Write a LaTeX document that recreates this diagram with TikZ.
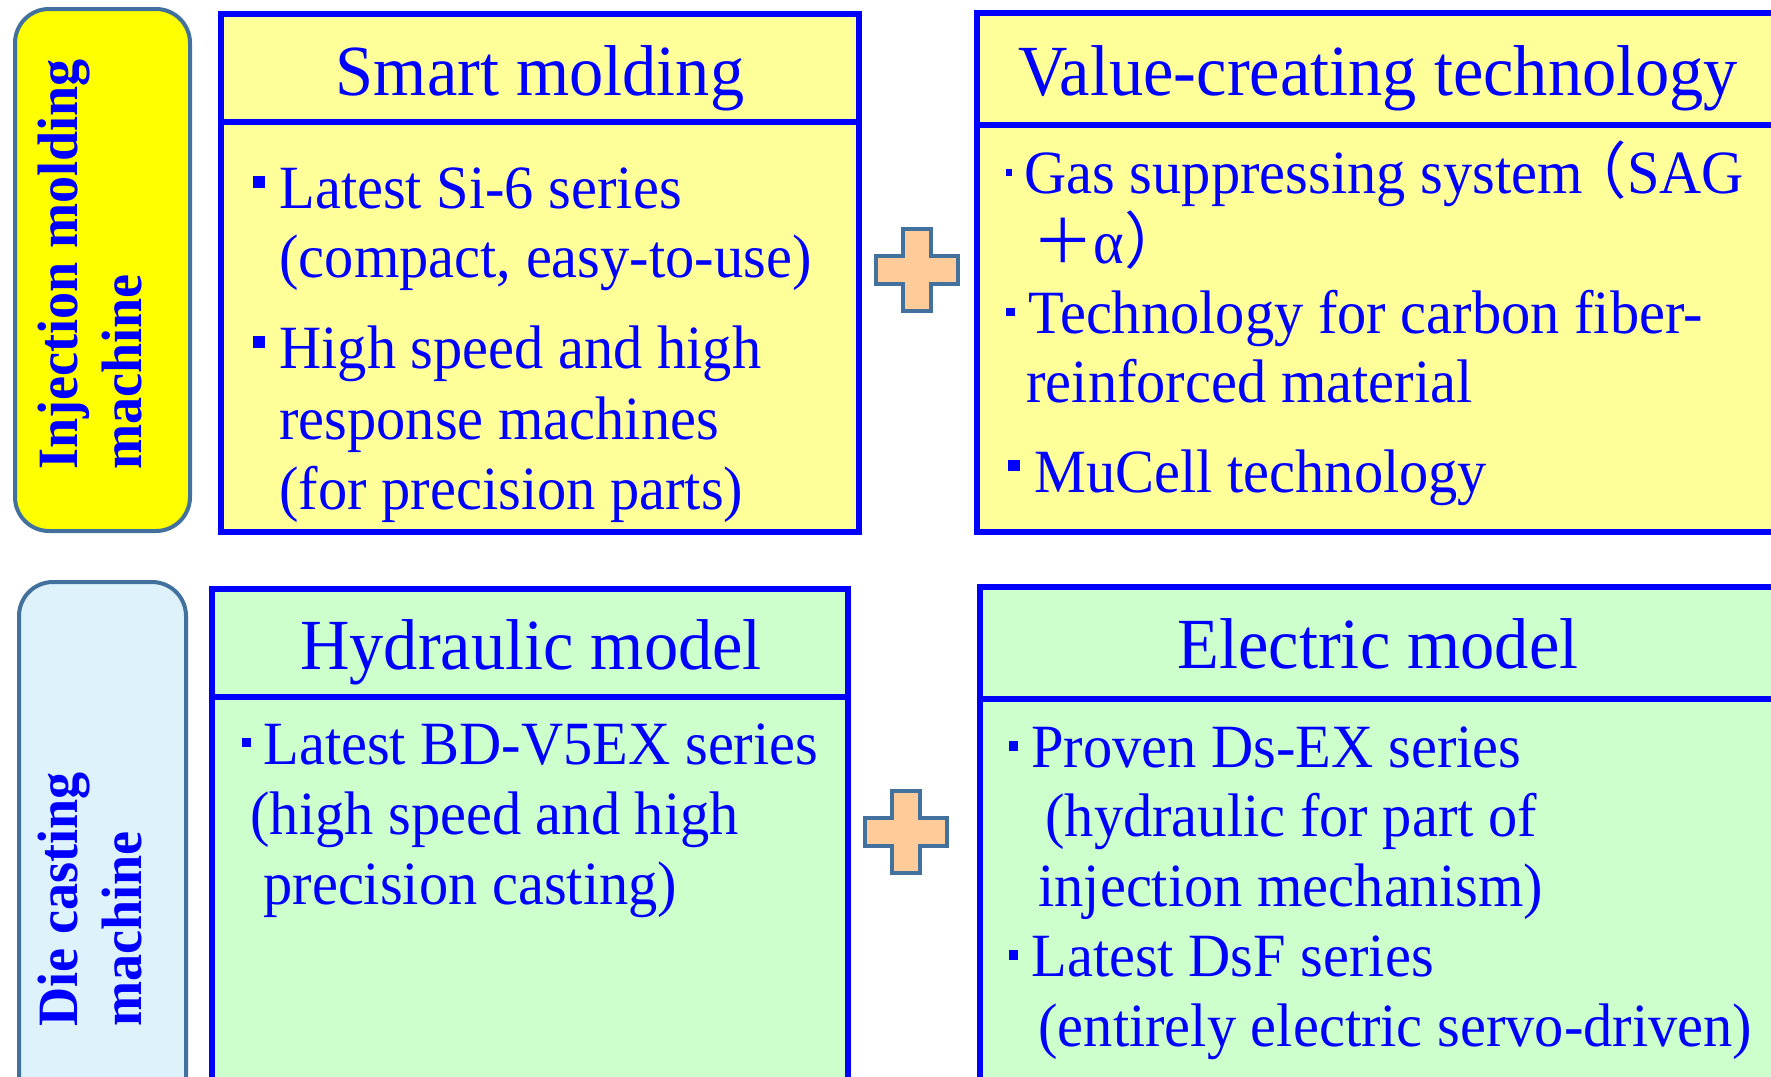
\documentclass[tikz,border=0pt]{standalone}
\usepackage{fontspec}
\setmainfont{Liberation Serif}[FakeStretch=0.95]
\newfontfamily\cjk{Noto Sans CJK JP}
\definecolor{tblue}{RGB}{0,0,255}
\definecolor{lborder}{RGB}{65,113,156}
\definecolor{lyel}{RGB}{255,255,0}
\definecolor{lcyan}{RGB}{222,242,252}
\definecolor{byel}{RGB}{255,255,153}
\definecolor{bgrn}{RGB}{204,255,204}
\definecolor{peach}{RGB}{255,204,153}
\newcommand\mybul[3]{\rule[#3]{#1}{#2}}
\tikzset{plussign/.pic={\draw[pluss] (-14,-41) -- (14,-41) -- (14,-14) -- (41,-14) -- (41,14) -- (14,14) -- (14,41) -- (-14,41) -- (-14,14) -- (-41,14) -- (-41,-14) -- (-14,-14) -- cycle;}}
\begin{document}
\begin{tikzpicture}[x=0.5pt,y=-0.5pt,
  hdr/.style={font=\fontsize{36pt}{40pt}\selectfont, text=tblue, inner sep=0pt, anchor=base},
  body/.style={font=\fontsize{30.75pt}{35pt}\selectfont, text=tblue, inner sep=0pt, anchor=base west},
  lbl/.style={font=\fontsize{28.5pt}{31pt}\selectfont\bfseries, text=tblue, inner sep=0pt, anchor=base west, rotate=90},
  bbox/.style={draw=tblue, line width=2.7pt},
  lbox/.style={draw=lborder, line width=2pt, rounded corners=17pt},
  pluss/.style={draw=lborder, fill=peach, line width=2pt}]
\useasboundingbox (0,0) rectangle (1771,1076);
\clip (0,0) rectangle (1771,1076);
% category labels
\draw[lbox, fill=lyel] (15,9) rectangle (190,531);
\draw[lbox, fill=lcyan] (19,582) rectangle (186,1120);
% boxes
\draw[bbox, fill=byel] (221,14) rectangle (859,532);
\draw[bbox] (221,122) -- (859,122);
\draw[bbox, fill=byel] (977,13) rectangle (1800,532);
\draw[bbox] (977,125) -- (1800,125);
\draw[bbox, fill=bgrn] (212,589) rectangle (848,1120);
\draw[bbox] (212,697) -- (848,697);
\draw[bbox, fill=bgrn] (980,587) rectangle (1800,1120);
\draw[bbox] (980,699) -- (1800,699);
% plus signs
\pic (p1) at (917,270) {plussign};
\pic (p2) at (906,832) {plussign};
% label texts
\node[lbl] (l1a) at (77,470) {Injection molding};
\node[lbl] (l1b) at (141,470) {machine};
\node[lbl] (l2a) at (77,1027) {Die casting};
\node[lbl] (l2b) at (141,1027) {machine};
% headers
\node[hdr] (h1) at (540,95) {Smart molding};
\node[hdr] (h2) at (1378,95) {Value-creating technology};
\node[hdr] (h3) at (531,669) {Hydraulic model};
\node[hdr] (h4) at (1378,668) {Electric model};
% smart molding
\node[body] (s1) at (253,208) {\mybul{6pt}{6pt}{10pt}\hspace{7pt}Latest Si-6 series};
\node[body] (s2) at (279,277) {(compact, easy-to-use)};
\node[body] (s3) at (253,368) {\mybul{6pt}{6pt}{10pt}\hspace{7pt}High speed and high};
\node[body] (s4) at (279,439) {response machines};
\node[body] (s5) at (279,509) {(for precision parts)};
% value-creating
\node[body] (v1) at (1006,193) {\mybul{3pt}{3.5pt}{8.5pt}\hspace{6pt}Gas suppressing system\hspace{-8.5pt}{\cjk （}SAG};
\node[body] (v2) at (1032,263) {{\cjk ＋}α{\cjk ）}};
\node[body] (v3) at (1006,333) {\mybul{4.5pt}{4pt}{8.5pt}\hspace{6.5pt}Technology for carbon fiber-};
\node[body] (v4) at (1026,402) {reinforced material};
\node[body] (v5) at (1008,492) {\mybul{6pt}{5.5pt}{10.5pt}\hspace{7pt}MuCell technology};
% hydraulic
\node[body] (d1) at (242,764) {\mybul{4.5pt}{4.5pt}{8.5pt}\hspace{6pt}Latest BD-V5EX series};
\node[body] (d2) at (250,834) {(high speed and high};
\node[body] (d3) at (263,904) {precision casting)};
% electric
\node[body] (e1) at (1009,767) {\mybul{4.5pt}{5pt}{8pt}\hspace{6.5pt}Proven Ds-EX series};
\node[body] (e2) at (1045,836) {(hydraulic for part of};
\node[body] (e3) at (1038,906) {injection mechanism)};
\node[body] (e4) at (1009,976) {\mybul{4.5pt}{5pt}{8pt}\hspace{6.5pt}Latest DsF series};
\node[body] (e5) at (1038,1046) {(entirely electric servo-driven)};
\end{tikzpicture}
\end{document}
